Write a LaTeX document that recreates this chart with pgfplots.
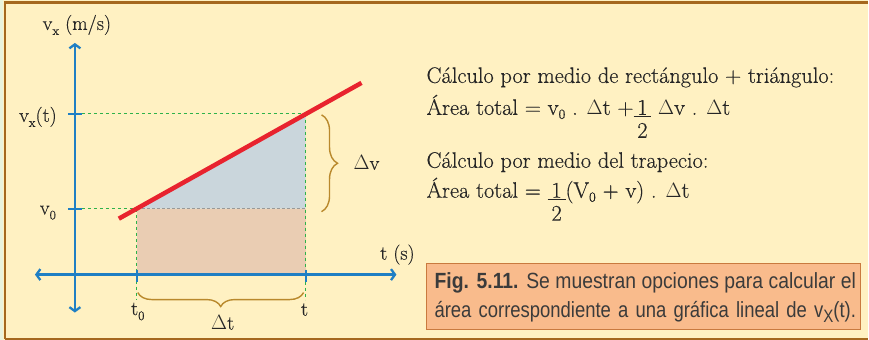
\documentclass[border=0pt]{standalone}
\usepackage{fontspec}
\setmainfont{Latin Modern Roman}[UprightFeatures={FakeBold=0.4}]
\usepackage{pgfplots}
\pgfplotsset{compat=1.18}
\usetikzlibrary{arrows.meta,decorations.pathreplacing}
\newfontfamily\capfontA[FakeStretch=0.88]{Liberation Sans}
\newfontfamily\capfontB[FakeStretch=0.84]{Liberation Sans}

\definecolor{bg}{HTML}{FFF1C2}
\definecolor{frame}{HTML}{A5681E}
\definecolor{strip}{HTML}{E9F3DD}
\definecolor{axblue}{HTML}{1F7FC4}
\definecolor{vline}{HTML}{E8232E}
\definecolor{dgreen}{HTML}{2EB24A}
\definecolor{rectfill}{HTML}{EACDB3}
\definecolor{trifill}{HTML}{CAD6DC}
\definecolor{bracec}{HTML}{B9892C}
\definecolor{capfill}{HTML}{F9BB8C}
\definecolor{capline}{HTML}{C97A3F}
\definecolor{txt}{HTML}{262626}
\definecolor{captxt}{HTML}{3B3B3B}

\newcommand\fs[1]{\fontsize{#1}{#1}\selectfont}
% "1" underlined with the "2" hanging below, as in the print
\newcommand\fr[2]{\underline{\makebox[0.8em]{#1}}\llap{\raisebox{-23pt}{\makebox[0.8em]{#2}}}}

\begin{document}
\begin{tikzpicture}
\begin{axis}[
  hide axis, scale only axis,
  x=1pt, y=1pt,
  xmin=0, xmax=869, ymin=0, ymax=340,
  clip=false,
]
% background and frame
\fill[bg] (0,0) rectangle (869,340);
\fill[strip] (0,0) rectangle (3.5,340);
\draw[frame, line width=2.5pt] (5,1) -- (5,337.5) -- (869,337.5);
\draw[frame, line width=2pt] (5,1) -- (869,1);

% areas
\addplot[draw=none, fill=rectfill] coordinates {(137,65) (306,65) (306,131) (137,131)} -- cycle;
\addplot[draw=none, fill=trifill] coordinates {(137,131) (306,131) (306,226)} -- cycle;
\addplot[gray!80, densely dashed, line width=0.5pt] coordinates {(137,131) (306,131)};

% dashed guides
\addplot[dgreen, dashed, line width=0.9pt] coordinates {(82,226) (306,226)};
\addplot[dgreen, dashed, line width=0.9pt] coordinates {(82,131) (137,131)};
\addplot[dgreen, dashed, line width=0.9pt] coordinates {(137,131) (137,40)};
\addplot[dgreen, dashed, line width=0.9pt] coordinates {(306,226) (306,40)};

% axes
\draw[axblue, line width=2.3pt, {Straight Barb[length=4pt,width=11pt]}-{Straight Barb[length=4pt,width=11pt]}] (75,27) -- (75,297);
\draw[axblue, line width=2.3pt, {Straight Barb[length=4pt,width=11pt]}-{Straight Barb[length=4pt,width=11pt]}] (35,65) -- (397,65);
\draw[axblue, line width=2pt] (68,226) -- (82,226) (68,131) -- (82,131);
\draw[axblue, line width=2pt] (137,70) -- (137,58) (306,70) -- (306,58);

% the v(t) line
\addplot[vline, line width=4.5pt] coordinates {(119,121) (362,257)};

% braces
\draw[bracec, line width=1.4pt, decorate, decoration={brace, amplitude=16pt}] (322,225) -- (322,128);
\draw[bracec, line width=1.4pt, decorate, decoration={brace, amplitude=14pt}] (304,47) -- (138,47);

% labels
\node[txt, font=\fs{20}] at (77,315) {v\raisebox{-5pt}{\fs{13}x} (m/s)};
\node[txt, font=\fs{20}] at (38,223) {v\raisebox{-5pt}{\fs{13}x}(t)};
\node[txt, font=\fs{20}] at (48,127) {v\raisebox{-5pt}{\fs{13}0}};
\node[txt, font=\fs{20}] at (138,28) {t\raisebox{-5pt}{\fs{13}0}};
\node[txt, font=\fs{20}] at (305,30) {t};
\node[txt, font=\fs{20}] at (223,17) {$\Delta$t};
\node[txt, font=\fs{20}] at (367,177) {$\Delta$v};
\node[txt, font=\fs{20}] at (398,85) {t (s)};

% explanatory text
\node[txt, font=\fs{22.4}, anchor=base west, inner sep=0pt] at (427,257) {Cálculo por medio de rectángulo + triángulo:};
\node[txt, font=\fs{22.4}, anchor=base west, inner sep=0pt] at (427,225) {Área total = v\raisebox{-4pt}{\fs{14}0} . $\Delta$t +\fr{1}{2} $\Delta$v . $\Delta$t};
\node[txt, font=\fs{22.4}, anchor=base west, inner sep=0pt] at (427,172) {Cálculo por medio del trapecio:};
\node[txt, font=\fs{22.4}, anchor=base west, inner sep=0pt] at (427,142) {Área total = \fr{1}{2}(V\raisebox{-4pt}{\fs{14}0} + v) . $\Delta$t};

% caption box
\filldraw[fill=capfill, draw=capline, line width=1.3pt] (427,10) rectangle (862,76);
\node[captxt, font=\capfontA\fs{22}, anchor=base west, inner sep=0pt] at (435,51)
  {\makebox[422pt][s]{\textbf{Fig. 5.11.} Se muestran opciones para calcular el}};
\node[captxt, font=\capfontB\fs{22}, anchor=base west, inner sep=0pt] at (435,22)
  {\makebox[422pt][s]{área correspondiente a una gráfica lineal de v\raisebox{-5pt}{\fs{18}X}(t).}};
\end{axis}
\end{tikzpicture}
\end{document}
